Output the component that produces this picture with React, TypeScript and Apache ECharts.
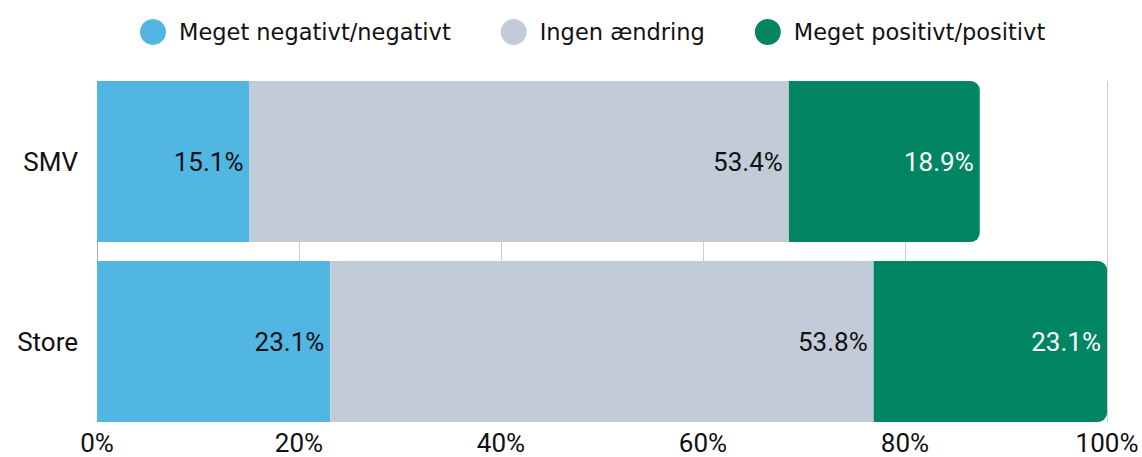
import React, { useEffect, useRef } from "react";
import * as echarts from "echarts";

const categories = ["SMV", "Store"];
const seriesNames = ["Meget negativt/negativt", "Ingen ændring", "Meget positivt/positivt"];
const negative = [15.1, 23.1];
const unchanged = [53.4, 53.8];
const positive = [18.9, 23.1];
const xTicks = [0, 20, 40, 60, 80, 100];

const colors = ["#52B6E3", "#C2CCD8", "#018562"];
const labelColors = ["#111111", "#111111", "#ffffff"];
const FONT = "Roboto";
const LEGEND_FONT = "DejaVu Sans";

export default function App() {
  const ref = useRef<HTMLDivElement>(null);
  useEffect(() => {
    if (!ref.current) return;
    const chart = echarts.init(ref.current, null, { renderer: "svg" });
    const values = [negative, unchanged, positive];
    chart.setOption({
      animation: false,
      textStyle: { fontFamily: FONT },
      legend: {
        top: 14,
        left: 135,
        icon: "circle",
        itemWidth: 26,
        itemHeight: 26,
        itemGap: 50,
        textStyle: {
          fontSize: 22.5,
          lineHeight: 26,
          color: "#111",
          fontFamily: LEGEND_FONT,
          padding: [0, 0, 0, 8],
        },
        data: seriesNames,
      },
      grid: [
        { left: 97, right: 35, top: 71.5, bottom: 25.5, containLabel: false },
        { left: 97, right: 35, top: 81, bottom: 35, containLabel: false },
      ],
      xAxis: [
        {
          type: "value",
          gridIndex: 0,
          min: xTicks[0],
          max: xTicks[xTicks.length - 1],
          interval: 20,
          show: false,
        },
        {
          type: "value",
          gridIndex: 1,
          min: xTicks[0],
          max: xTicks[xTicks.length - 1],
          interval: 20,
          axisLine: { show: false },
          axisTick: { show: false },
          splitLine: { show: true, lineStyle: { color: "#cccccc", width: 1 } },
          axisLabel: {
            fontSize: 26,
            color: "#111",
            fontFamily: FONT,
            margin: 8,
            formatter: (v: number) => `${v}%`,
          },
        },
      ],
      yAxis: [
        {
          type: "category",
          gridIndex: 0,
          data: categories,
          inverse: true,
          axisLine: { show: false },
          axisTick: { show: false },
          axisLabel: { fontSize: 26, color: "#111", fontFamily: FONT, margin: 19 },
        },
        {
          type: "value",
          gridIndex: 1,
          min: 0,
          max: 1,
          axisLine: { show: true, lineStyle: { color: "#aaaaaa", width: 1 } },
          axisTick: { show: false },
          axisLabel: { show: false },
          splitLine: { show: false },
        },
      ],
      series: seriesNames.map((name, i) => ({
        name,
        type: "bar",
        stack: "total",
        xAxisIndex: 0,
        yAxisIndex: 0,
        barWidth: 161,
        data: values[i],
        itemStyle: {
          color: colors[i],
          borderRadius: i === 2 ? [0, 9, 9, 0] : 0,
        },
        label: {
          show: true,
          position: "insideRight",
          distance: 6,
          fontSize: 26,
          fontFamily: FONT,
          color: labelColors[i],
          formatter: (p: any) => `${Number(p.value).toFixed(1)}%`,
        },
      })),
    });
    return () => chart.dispose();
  }, []);
  return (
    <div
      ref={ref}
      style={{ position: "fixed", left: 0, top: 0, width: 1142, height: 457, background: "#fff" }}
    />
  );
}
